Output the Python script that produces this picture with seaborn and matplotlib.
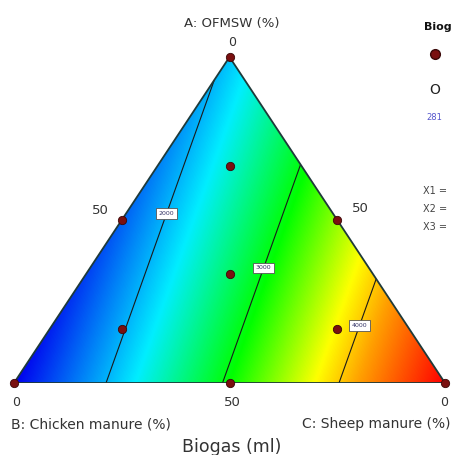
import numpy as np
import matplotlib.pyplot as plt
import matplotlib.tri as mtri
from matplotlib.colors import LinearSegmentedColormap
from matplotlib.patches import Polygon
import seaborn as sns
import pandas as pd

sns.set_style("white")
plt.rcParams['font.family'] = ['DejaVu Sans']

# design points (mixture fractions A, B, C)
pts_A = [1, 0, 0, 0.5, 0.5, 0, 2/3, 1/3, 1/6, 1/6]
pts_B = [0, 1, 0, 0.5, 0, 0.5, 1/6, 1/3, 2/3, 1/6]
pts_C = [0, 0, 1, 0, 0.5, 0.5, 1/6, 1/3, 1/6, 2/3]

# linear mixture model coefficients (Biogas, ml)
coef_A = 2060
coef_B = 1210
coef_C = 4910
contour_levels = [2000, 3000, 4000]

# labels
top_label = "A: OFMSW (%)"
left_label = "B: Chicken manure (%)"
right_label = "C: Sheep manure (%)"
title = "Biogas (ml)"


def to_xy(a, b, c):
    a = np.asarray(a, float); c = np.asarray(c, float)
    return c + a / 2, a


W, H = 453, 455
fig = plt.figure(figsize=(W / 100, H / 100), dpi=100)
ax = fig.add_axes([14 / W, 1 - 383 / H, 431 / W, 326 / H])
ax.set_xlim(0, 1)
ax.set_ylim(0, 1)
ax.axis('off')

cmap = LinearSegmentedColormap.from_list(
    'de', [(0, '#0000ee'), (0.28, '#00eeff'), (0.5, '#00ff00'),
           (0.7, '#ffff00'), (0.8, '#ffa000'), (1.0, '#ff0000')])

# colour fill
gx, gy = np.meshgrid(np.linspace(0, 1, 400), np.linspace(0, 1, 400))
ga = gy
gc = gx - gy / 2
gb = 1 - ga - gc
gz = coef_A * ga + coef_B * gb + coef_C * gc
im = ax.imshow(gz, origin='lower', extent=(0, 1, 0, 1), cmap=cmap,
               vmin=coef_B, vmax=coef_C, aspect='auto', interpolation='bilinear')
tri_xy = np.array([to_xy(0, 1, 0), to_xy(0, 0, 1), to_xy(1, 0, 0)])
tri_patch = Polygon(tri_xy, closed=True, facecolor='none',
                    edgecolor='#1e3a3a', linewidth=1.3, zorder=3)
ax.add_patch(tri_patch)
im.set_clip_path(tri_patch)

# contour lines
n = 60
ta, tc = [], []
for i in range(n + 1):
    for j in range(n + 1 - i):
        ta.append(i / n)
        tc.append(j / n)
ta = np.array(ta); tc = np.array(tc); tb = 1 - ta - tc
tx, ty = to_xy(ta, tb, tc)
tz = coef_A * ta + coef_B * tb + coef_C * tc
triang = mtri.Triangulation(tx, ty)
cs = ax.tricontour(triang, tz, levels=contour_levels, colors='#1a1a1a',
                   linewidths=0.8, zorder=2)
labels = ax.clabel(cs, fmt='%d', fontsize=4.5, inline=False,
                   manual=[(0.357, 0.518), (0.58, 0.353), (0.80, 0.178)])
for t in labels:
    t.set_rotation(0)
    t.set_bbox(dict(facecolor='white', edgecolor='#555555', pad=2,
                    linewidth=0.6))
    t.set_color('#333366')
    t.set_zorder(4)

# design points
px, py = to_xy(pts_A, pts_B, pts_C)
df = pd.DataFrame({'x': px, 'y': py})
sns.scatterplot(data=df, x='x', y='y', ax=ax, color='#7a1010', s=36,
                edgecolor='#3a0808', linewidth=0.6, zorder=5, clip_on=False,
                legend=False)


def ft(x, y, s, **kw):
    fig.text(x / W, 1 - y / H, s, **kw)


tc_ = '#333333'
ft(232, 24, top_label, ha='center', va='center', fontsize=9.5, color=tc_)
ft(232, 42, '0', ha='center', va='center', fontsize=9, color=tc_)
ft(100, 211, '50', ha='center', va='center', fontsize=9.5, color=tc_)
ft(360, 209, '50', ha='center', va='center', fontsize=9.5, color=tc_)
ft(16, 403, '0', ha='center', va='center', fontsize=9, color=tc_)
ft(232, 403, '50', ha='center', va='center', fontsize=9.5, color=tc_)
ft(444, 403, '0', ha='center', va='center', fontsize=9, color=tc_)
ft(11, 424, left_label, ha='left', va='center', fontsize=10, color=tc_)
ft(451, 424, right_label, ha='right', va='center', fontsize=10, color=tc_)
ft(232, 447, title, ha='center', va='center', fontsize=12.5, color=tc_)

# legend panel (cropped at the right edge in the reference)
ft(424, 27, 'Biog', ha='left', va='center', fontsize=8,
   fontweight='bold', color='#111111')
fig.add_artist(plt.Line2D([435 / W], [1 - 54 / H], marker='o', markersize=7,
                          color='#7a1010', markeredgecolor='#3a0808'))
ft(435, 90, 'O', ha='center', va='center', fontsize=10, color='#222222')
ft(426, 118, '281', ha='left', va='center', fontsize=6, color='#5555cc')
ft(423, 191, 'X1 =', ha='left', va='center', fontsize=7, color='#444444')
ft(423, 209, 'X2 =', ha='left', va='center', fontsize=7, color='#444444')
ft(423, 227, 'X3 =', ha='left', va='center', fontsize=7, color='#444444')

fig.savefig('out.png', dpi=100)
